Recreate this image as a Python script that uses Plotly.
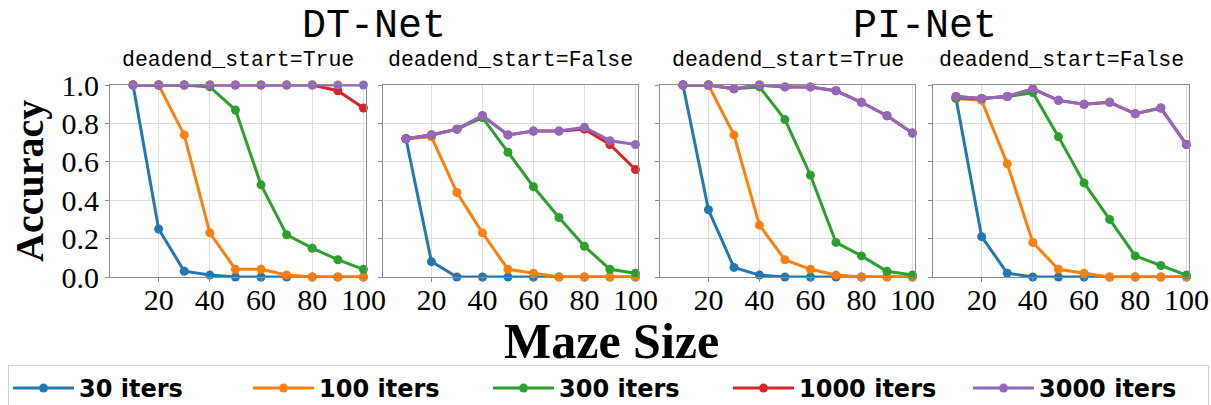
import plotly.graph_objects as go

# Maze sizes evaluated
maze_sizes = [10, 20, 30, 40, 50, 60, 70, 80, 90, 100]

# Iteration budgets (legend labels) and colours
iter_labels = ["30 iters", "100 iters", "300 iters", "1000 iters", "3000 iters"]
colors = ["#1f77b4", "#ff7f0e", "#2ca02c", "#d62728", "#9467bd"]

# DT-Net, deadend_start=True
dt_true_30 = [1.0, 0.25, 0.03, 0.01, 0.0, 0.0, 0.0, 0.0, 0.0, 0.0]
dt_true_100 = [1.0, 1.0, 0.74, 0.23, 0.04, 0.04, 0.01, 0.0, 0.0, 0.0]
dt_true_300 = [1.0, 1.0, 1.0, 0.99, 0.87, 0.48, 0.22, 0.15, 0.09, 0.04]
dt_true_1000 = [1.0, 1.0, 1.0, 1.0, 1.0, 1.0, 1.0, 1.0, 0.97, 0.88]
dt_true_3000 = [1.0, 1.0, 1.0, 1.0, 1.0, 1.0, 1.0, 1.0, 1.0, 1.0]

# DT-Net, deadend_start=False
dt_false_30 = [0.72, 0.08, 0.0, 0.0, 0.0, 0.0, 0.0, 0.0, 0.0, 0.0]
dt_false_100 = [0.72, 0.73, 0.44, 0.23, 0.04, 0.02, 0.0, 0.0, 0.0, 0.0]
dt_false_300 = [0.72, 0.74, 0.77, 0.83, 0.65, 0.47, 0.31, 0.16, 0.04, 0.02]
dt_false_1000 = [0.72, 0.74, 0.77, 0.84, 0.74, 0.76, 0.76, 0.77, 0.69, 0.56]
dt_false_3000 = [0.72, 0.74, 0.77, 0.84, 0.74, 0.76, 0.76, 0.78, 0.71, 0.69]

# PI-Net, deadend_start=True
pi_true_30 = [1.0, 0.35, 0.05, 0.01, 0.0, 0.0, 0.0, 0.0, 0.0, 0.0]
pi_true_100 = [1.0, 1.0, 0.74, 0.27, 0.09, 0.04, 0.01, 0.0, 0.0, 0.0]
pi_true_300 = [1.0, 1.0, 0.98, 0.99, 0.82, 0.53, 0.18, 0.11, 0.03, 0.01]
pi_true_1000 = [1.0, 1.0, 0.98, 1.0, 0.99, 0.99, 0.97, 0.91, 0.84, 0.75]
pi_true_3000 = [1.0, 1.0, 0.98, 1.0, 0.99, 0.99, 0.97, 0.91, 0.84, 0.75]

# PI-Net, deadend_start=False
pi_false_30 = [0.93, 0.21, 0.02, 0.0, 0.0, 0.0, 0.0, 0.0, 0.0, 0.0]
pi_false_100 = [0.93, 0.92, 0.59, 0.18, 0.04, 0.02, 0.0, 0.0, 0.0, 0.0]
pi_false_300 = [0.93, 0.93, 0.94, 0.96, 0.73, 0.49, 0.30, 0.11, 0.06, 0.01]
pi_false_1000 = [0.94, 0.93, 0.94, 0.98, 0.92, 0.90, 0.91, 0.85, 0.88, 0.69]
pi_false_3000 = [0.94, 0.93, 0.94, 0.98, 0.92, 0.90, 0.91, 0.85, 0.88, 0.69]

panels = [
    [dt_true_30, dt_true_100, dt_true_300, dt_true_1000, dt_true_3000],
    [dt_false_30, dt_false_100, dt_false_300, dt_false_1000, dt_false_3000],
    [pi_true_30, pi_true_100, pi_true_300, pi_true_1000, pi_true_3000],
    [pi_false_30, pi_false_100, pi_false_300, pi_false_1000, pi_false_3000],
]
panel_titles = ["deadend_start=True", "deadend_start=False",
                "deadend_start=True", "deadend_start=False"]
group_titles = ["DT-Net", "PI-Net"]

x_ticks = [20, 40, 60, 80, 100]
y_ticks = [0.0, 0.2, 0.4, 0.6, 0.8, 1.0]

W, H = 1211, 405


def px_x(v):
    return v / W


def px_y(v):
    return 1 - v / H


# panel boxes in pixels (left, right); shared top / bottom
boxes = [(110, 366), (383, 638), (660, 915), (933, 1189)]
top, bottom = 85, 277

fig = go.Figure()

serif = "Liberation Serif"
mono = "Liberation Mono"


def label(text, x, y, font, angle=0):
    fig.add_annotation(text=text, x=px_x(x), y=px_y(y), xref="paper",
                       yref="paper", showarrow=False, xanchor="center",
                       yanchor="middle", textangle=angle, font=font)


for p, series in enumerate(panels):
    ax = "" if p == 0 else str(p + 1)
    for i, ys in enumerate(series):
        fig.add_trace(go.Scatter(
            x=maze_sizes, y=ys, mode="lines+markers",
            name=iter_labels[i], legendgroup=iter_labels[i],
            showlegend=(p == 0),
            line=dict(color=colors[i], width=3),
            marker=dict(color=colors[i], size=9),
            cliponaxis=False,
            xaxis="x" + ax, yaxis="y" + ax,
        ))
    l, r = boxes[p]
    common = dict(showline=True, mirror=True, linecolor="#8c8c8c", linewidth=1,
                  showgrid=True, gridcolor="#dedede", gridwidth=1,
                  ticks="outside", ticklen=4, tickcolor="#8c8c8c",
                  zeroline=False,
                  tickfont=dict(family=serif, size=30, color="black"))
    fig.update_layout(**{
        "xaxis" + ax: dict(domain=[px_x(l), px_x(r)], range=[1, 101],
                           tickvals=x_ticks, anchor="y" + ax,
                           ticklabelstandoff=-8, **common),
        "yaxis" + ax: dict(domain=[px_y(bottom), px_y(top)], range=[0, 1],
                           tickvals=y_ticks, tickformat=".1f",
                           showticklabels=(p == 0), anchor="x" + ax, **common),
    })
    label(panel_titles[p], (l + r) / 2, 60,
          dict(family=mono, size=21.5, color="black"))

for g in range(2):
    l = boxes[2 * g][0]
    r = boxes[2 * g + 1][1]
    label(group_titles[g], (l + r) / 2, 26,
          dict(family=mono, size=40, color="black"))

label("<b>Accuracy</b>", 30, 181, dict(family=serif, size=40, color="black"),
      angle=-90)
label("<b>Maze Size</b>", 611, 341, dict(family=serif, size=50, color="black"))

fig.update_layout(
    width=W, height=H,
    margin=dict(l=0, r=0, t=0, b=0, autoexpand=False),
    paper_bgcolor="white", plot_bgcolor="white",
    legend=dict(orientation="h", x=px_x(8), xanchor="left",
                y=px_y(365), yanchor="top",
                bordercolor="#d0d0d0", borderwidth=1,
                entrywidth=164, entrywidthmode="pixels", itemwidth=61,
                font=dict(family="DejaVu Sans", size=24, color="black",
                          weight="bold")),
)

fig.write_html("out.html")
